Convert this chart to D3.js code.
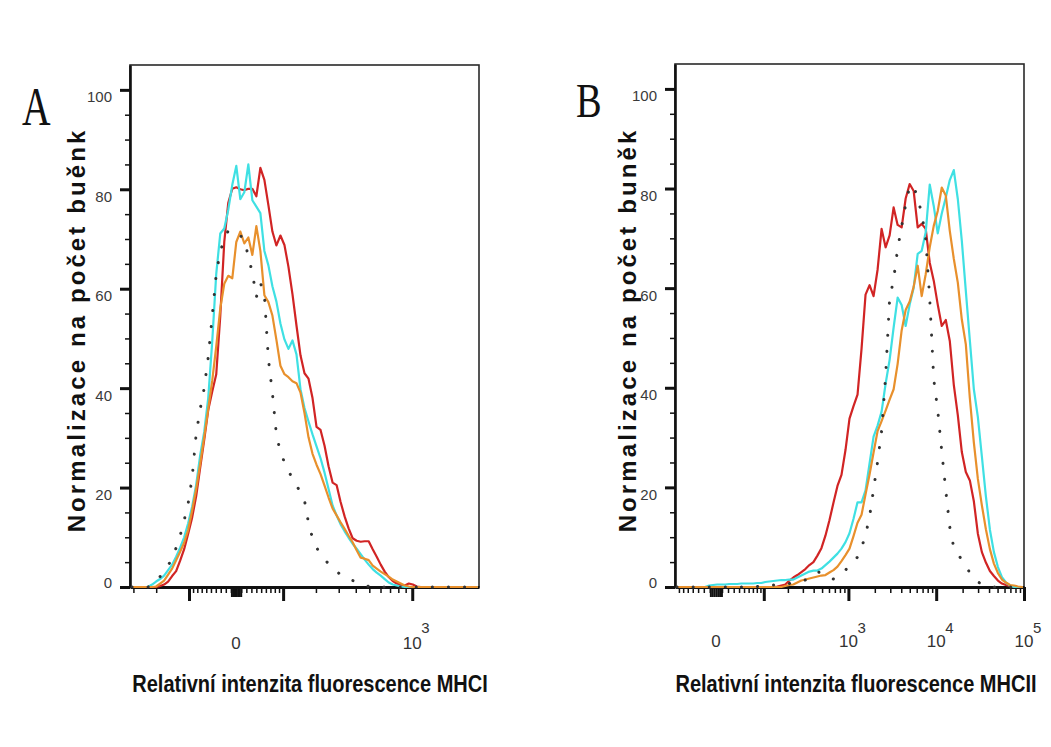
<!DOCTYPE html>
<html><head><meta charset="utf-8">
<script src="https://cdn.jsdelivr.net/npm/d3@7"></script>
<style>body{margin:0;background:#fff}svg{display:block}</style>
</head><body>
<svg id="chart" width="1051" height="747"></svg>
<script>
// ---------- data ----------
const binCount = 87; // histogram bins across the display axis
const yMax = 105;
const yMajorTicks = [0, 20, 40, 60, 80, 100];
const yTickLabels = ["0", "20", "40", "60", "80", "100"];
const yMinorTicks = [5, 10, 15, 25, 30, 35, 45, 50, 55, 65, 70, 75, 85, 90, 95];

const panelLetters = ["A", "B"];
const yTitles = ["Normalizace na počet buěnk", "Normalizace na počet buněk"];
const xTitles = ["Relativní intenzita fluorescence MHCI", "Relativní intenzita fluorescence MHCII"];

// panel A axis (biexponential-like display)
const xRangeA = [-318, 2900];
const cofactorA = 122;
const xMajorTicksA = [-100, 100, 1000];
const xMinorTicksA = [-300, -200, -90, -80, -70, -60, -50, -40, -30, -20, -10, 10, 20, 30, 40, 50, 60, 70, 80, 90, 200, 300, 400, 500, 600, 700, 800, 900];
const xZeroTicksA = [-9, -6, -3, 0, 3, 6, 9];
const xLabelValuesA = [0, 1000];
const xLabelBaseA = ["0", "10"];
const xLabelExpA = ["", "3"];

// panel B axis
const xRangeB = [-80, 100000];
const cofactorB = 62;
const xMajorTicksB = [100, 1000, 10000, 100000];
const xMinorTicksB = [-70, -60, -50, -40, -30, -20, -10, 10, 20, 30, 40, 50, 60, 70, 80, 90, 200, 300, 400, 500, 600, 700, 800, 900, 2000, 3000, 4000, 5000, 6000, 7000, 8000, 9000, 20000, 30000, 40000, 50000, 60000, 70000, 80000, 90000];
const xZeroTicksB = [-9, -6, -3, 0, 3, 6, 9];
const xLabelValuesB = [0, 1000, 10000, 100000];
const xLabelBaseB = ["0", "10", "10", "10"];
const xLabelExpB = ["", "3", "4", "5"];

// series (normalized counts per bin)
const redA = [0,0,0,0,0,0,0,0.2,0.5,1.1,2.2,3.2,5.3,7.6,10.7,14.0,18.3,24.0,29.6,35.6,39.3,42.8,54.5,69.4,77.3,80.1,80.4,80.0,79.8,80.1,80.1,78.6,84.3,81.9,76.8,71.5,68.7,70.7,68.8,64.4,58.9,52.6,46.6,43.0,41.9,38.0,32.2,31.6,28.4,24.3,21.0,20.5,17.1,14.2,11.8,9.8,9.3,9.1,9.2,9.2,7.6,6.1,4.5,3.1,2.0,1.2,0.7,0.4,0.3,0.7,0.5,0.1,0,0,0,0,0,0,0,0,0,0,0,0,0,0,0];
const cyanA = [0,0,0,0,0,0.5,1.1,1.6,2.3,3.4,4.5,6.1,7.9,10.0,12.8,16.2,20.6,26.5,31.2,38.0,49.4,63.0,71.1,72.1,75.9,80.9,84.7,78.0,79.4,85.0,77.8,76.5,75.2,67.6,64.7,60.5,57.4,53.0,49.8,47.9,49.6,46.8,39.8,36.0,33.3,30.7,28.3,25.9,23.0,19.7,16.4,14.4,12.6,11.2,9.9,8.7,7.7,6.6,5.5,4.5,3.6,2.9,2.3,1.6,0.9,0.5,0.3,0.1,0,0,0,0,0,0,0,0,0,0,0,0,0,0,0,0,0,0,0];
const orangeA = [0,0,0,0,0,0,0.1,0.7,1.3,2.5,3.7,5.4,7.1,8.9,11.5,15.4,19.7,24.8,30.2,35.8,41.5,48.4,56.0,61.0,62.6,62.1,69.4,71.5,69.1,70.3,66.8,72.6,67.6,58.7,57.3,54.6,49.7,44.5,42.8,42.2,41.4,41.0,39.1,35.0,30.1,26.8,24.6,22.7,20.4,18.0,15.8,14.4,13.0,11.7,10.3,9.0,7.4,5.9,5.7,5.4,4.3,3.7,3.1,2.6,2.1,1.5,1.1,0.7,0.3,0.1,0,0,0,0,0,0,0,0,0,0,0,0,0,0,0,0,0];
const controlA = [0,0,0,0,0,0.4,1.3,2.1,3.3,4.4,5.6,7.9,10.3,13.4,16.8,22.1,30.8,35.8,40.0,46.2,54.5,62.9,67.6,69.7,71.7,71.6,71.4,70.7,69.8,66.5,63.2,58.3,61.2,58.7,45.8,39.0,30.6,27.1,25.1,23.4,21.8,20.4,19.1,17.4,12.9,9.8,7.9,6.7,5.5,4.7,3.9,3.1,2.5,2.1,1.7,1.3,1.0,0.7,0.4,0.1,0,0,0,0,0,0,0,0,0,0,0,0,0,0,0,0,0,0,0,0,0,0,0,0,0,0,0];

const redB = [0,0,0,0,0,0,0,0,0,0,0,0,0,0,0,0,0,0,0,0,0,0,0,0,0,0.1,0.3,0.5,1.3,1.9,2.4,3.0,3.6,4.4,5.0,6.3,7.8,10.3,13.4,16.9,20.3,22.5,27.5,33.8,36.3,38.6,47.8,58.7,60.6,58.4,63.7,71.9,68.2,70.6,76.2,72.7,72.2,78.0,80.9,79.5,72.2,72.9,71.9,65.1,61.5,56.7,52.4,53.6,49.4,40.6,34.5,27.1,23.1,21.4,17.2,10.7,7.0,4.9,3.2,2.2,1.3,0.7,0.4,0.2,0,0,0];
const cyanB = [0,0,0,0,0,0,0,0,0.3,0.4,0.5,0.5,0.5,0.6,0.6,0.6,0.7,0.7,0.7,0.7,0.8,0.8,1.0,1.1,1.2,1.3,1.4,1.4,1.5,1.5,1.9,2.3,2.7,3.1,3.3,3.3,3.7,4.4,5.1,5.9,6.7,7.7,9.0,10.8,13.7,17.0,17.0,19.4,24.8,30.2,32.4,35.2,40.8,45.6,52.1,58.1,56.6,52.4,56.7,60.1,66.9,67.5,71.2,80.8,76.5,71.0,75.0,78.2,81.7,83.7,77.9,69.5,59.4,49.5,39.7,34.1,26.2,18.2,11.5,7.0,4.0,2.0,0.9,0.3,0,0,0];
const orangeB = [0,0,0,0,0,0,0,0,0,0,0,0,0,0,0,0,0,0,0,0,0,0,0,0,0,0,0,0.2,0.4,0.5,0.9,1.3,1.5,1.7,1.9,2.1,2.3,2.4,2.9,3.4,4.1,5.2,6.4,7.7,10.2,12.9,14.5,18.6,22.6,27.0,31.3,33.3,35.4,37.6,39.7,44.8,51.5,55.6,57.3,60.3,64.5,58.4,62.8,68.2,72.5,75.5,80.2,78.6,71.5,65.9,61.1,53.7,48.7,37.9,29.0,21.7,16.4,11.6,7.6,4.7,2.8,1.5,0.9,0.4,0.3,0.1,0];
const controlB = [0,0,0,0,0,0,0,0,0,0,0,0,0,0,0,0,0,0,0,0.1,0.1,0.2,0.2,0.3,0.4,0.4,0.5,0.6,0.7,0.9,1.0,1.2,1.4,2.0,2.5,3.0,2.9,2.4,1.9,1.6,2.2,2.8,3.4,4.3,5.1,6.0,7.9,10.4,14.1,19.6,25.1,31.3,42.2,57.8,61.8,67.9,72.4,76.8,80.5,80.5,78.0,75.0,69.9,57.9,41.7,35.4,27.2,19.4,12.0,7.9,6.7,5.4,4.1,2.9,1.6,1.0,0.6,0.3,0,0,0,0,0,0,0,0,0];

const seriesColors = { red: "#d12424", cyan: "#3fe0e3", orange: "#e8902c", control: "#333333" };

// ---------- drawing ----------
const svg = d3.select("#chart");
svg.append("rect").attr("width", 1051).attr("height", 747).attr("fill", "#fff");

const panels = [
  { left: 130, right: 479, top: 65, bottom: 587, xRange: xRangeA, cofactor: cofactorA,
    major: xMajorTicksA, minor: xMinorTicksA, zero: xZeroTicksA,
    labelValues: xLabelValuesA, labelBase: xLabelBaseA, labelExp: xLabelExpA, labelY: 649,
    series: [["red", redA], ["cyan", cyanA], ["orange", orangeA]], control: controlA,
    letter: panelLetters[0], letterX: 22, letterY: 125, letterSize: 55, letterScale: 0.72,
    yTitle: yTitles[0], yTitleX: 85, xTitle: xTitles[0], xTitleX: 310 },
  { left: 675, right: 1024, top: 64, bottom: 587, xRange: xRangeB, cofactor: cofactorB,
    major: xMajorTicksB, minor: xMinorTicksB, zero: xZeroTicksB,
    labelValues: xLabelValuesB, labelBase: xLabelBaseB, labelExp: xLabelExpB, labelY: 647,
    series: [["red", redB], ["cyan", cyanB], ["orange", orangeB]], control: controlB,
    letter: panelLetters[1], letterX: 576, letterY: 117, letterSize: 48, letterScale: 0.8,
    yTitle: yTitles[1], yTitleX: 636, xTitle: xTitles[1], xTitleX: 856 }
];

const sans = "'Liberation Sans', Arial, Helvetica, sans-serif";

panels.forEach(p => {
  const T = v => Math.asinh(v / p.cofactor);
  const xT = d3.scaleLinear().domain([T(p.xRange[0]), T(p.xRange[1])]).range([p.left, p.right]);
  const x = v => xT(T(v));
  const xBin = d3.scaleLinear().domain([0, binCount]).range([p.left, p.right]);
  const y = d3.scaleLinear().domain([0, yMax]).range([p.bottom, p.top]);
  const g = svg.append("g");

  // frame
  g.append("rect").attr("x", p.left).attr("y", p.top)
    .attr("width", p.right - p.left).attr("height", p.bottom - p.top)
    .attr("fill", "none").attr("stroke", "#2a2a2a").attr("stroke-width", 1.6);

  const styleAxis = (sel, w, keepDomain, dw) => {
    sel.selectAll(".tick line").attr("stroke", "#111").attr("stroke-width", w);
    if (keepDomain) sel.select(".domain").attr("stroke", "#111").attr("stroke-width", dw);
    else sel.select(".domain").remove();
  };

  // y axis
  g.append("g").attr("transform", `translate(${p.left},0)`)
    .call(d3.axisLeft(y).tickValues(yMinorTicks).tickSize(5).tickFormat("").tickSizeOuter(0))
    .call(s => styleAxis(s, 1.5, false));
  g.append("g").attr("transform", `translate(${p.left},0)`)
    .call(d3.axisLeft(y).tickValues(yMajorTicks).tickSize(10).tickFormat("").tickSizeOuter(0))
    .call(s => styleAxis(s, 3, true, 2.6));

  g.selectAll(".ylab").data(yMajorTicks).join("text")
    .attr("x", p.left - 18)
    .attr("y", d => Math.min(y(d) + 12.5, p.bottom + 1))
    .attr("text-anchor", "end")
    .attr("font-family", sans).attr("font-size", 15).attr("fill", "#3a3a3a")
    .text((d, i) => yTickLabels[i]);

  // x axis
  g.append("g").attr("transform", `translate(0,${p.bottom})`)
    .call(d3.axisBottom(xT).tickValues(p.minor.map(T)).tickSize(6).tickFormat("").tickSizeOuter(0))
    .call(s => styleAxis(s, 1.5, false));
  g.append("g").attr("transform", `translate(0,${p.bottom})`)
    .call(d3.axisBottom(xT).tickValues(p.zero.map(T)).tickSize(10).tickFormat("").tickSizeOuter(0))
    .call(s => styleAxis(s, 2, false));
  g.append("g").attr("transform", `translate(0,${p.bottom})`)
    .call(d3.axisBottom(xT).tickValues(p.major.map(T)).tickSize(14).tickFormat("").tickSizeOuter(0))
    .call(s => styleAxis(s, 3, true, 3));

  // x tick labels
  p.labelValues.forEach((v, i) => {
    g.append("text").attr("x", x(v)).attr("y", p.labelY)
      .attr("text-anchor", "middle").attr("font-family", sans).attr("font-size", 17).attr("fill", "#333")
      .text(p.labelBase[i]);
    if (p.labelExp[i]) {
      g.append("text").attr("x", x(v) + 9).attr("y", 633)
        .attr("text-anchor", "start").attr("font-family", sans).attr("font-size", 15).attr("fill", "#333")
        .text(p.labelExp[i]);
    }
  });

  // series
  const line = d3.line().x((d, i) => xBin(i + 0.5)).y(d => y(d));
  p.series.forEach(([name, vals]) => {
    g.append("path").datum(vals).attr("d", line)
      .attr("fill", "none").attr("stroke", seriesColors[name]).attr("stroke-width", 2.2)
      .attr("stroke-linejoin", "round").attr("stroke-linecap", "round");
  });
  g.append("path").datum(p.control).attr("d", line)
    .attr("fill", "none").attr("stroke", seriesColors.control).attr("stroke-width", 3)
    .attr("stroke-linecap", "round").attr("stroke-dasharray", "0.1 16");

  // panel letter
  g.append("text").attr("transform", `translate(${p.letterX},${p.letterY}) scale(${p.letterScale},1)`)
    .attr("font-family", "'Liberation Serif', 'Times New Roman', serif").attr("font-size", p.letterSize)
    .attr("fill", "#111").text(p.letter);

  // y title
  g.append("text").attr("transform", `translate(${p.yTitleX},330) rotate(-90)`)
    .attr("text-anchor", "middle").attr("font-family", sans).attr("font-weight", "bold")
    .attr("font-size", 24).attr("letter-spacing", 3.1).attr("fill", "#111")
    .text(p.yTitle);

  // x title (20px glyphs stretched vertically to the reference's tall, narrow lettering)
  g.append("text").attr("transform", `translate(${p.xTitleX},692) scale(1,1.2)`)
    .attr("text-anchor", "middle").attr("font-family", sans).attr("font-weight", "bold")
    .attr("font-size", 20).attr("fill", "#111")
    .text(p.xTitle);
});
</script>
</body></html>
